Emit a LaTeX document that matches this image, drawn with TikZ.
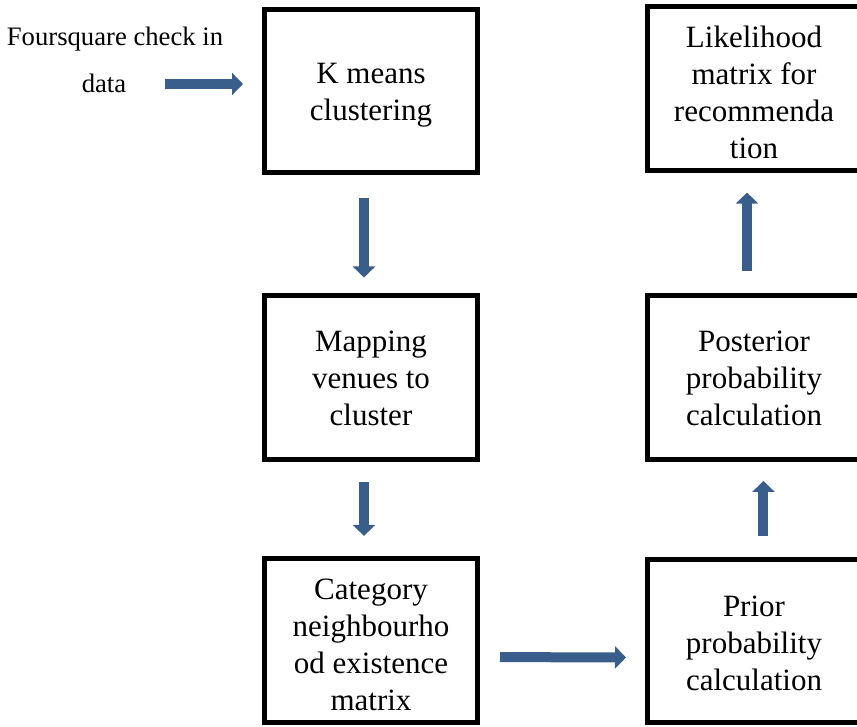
\documentclass[tikz,border=0pt]{standalone}
\usepackage{fontspec}
\setmainfont{Liberation Serif}
\usetikzlibrary{arrows.meta}
\definecolor{flowblue}{RGB}{58,94,140}
\newcommand{\lift}[1][24.5pt]{\rule{0pt}{#1}}

\begin{document}
\begin{tikzpicture}[x=0.75pt,y=-0.75pt,
        box/.style={draw,line width=3.75pt,minimum width=159.75pt,minimum height=122.25pt,inner sep=0,align=center,font=\fontsize{23.25}{27.75}\selectfont,execute at end node=\strut},
        flow/.style={draw=flowblue,line width=7.5pt,-{Triangle[width=16.5pt,length=8.25pt]}}]
        \useasboundingbox (0,0) rectangle (857,727);
        \clip (0,0) rectangle (857,727);
        \node[align=center,inner sep=0,font=\fontsize{20}{35.25}\selectfont] (src) at (115,60) {Foursquare check in\\data\hspace*{16.5pt}};
        \node[box] (kmeans) at (371,91) {\lift K means\\clustering};
        \node[box] (mapping) at (371,377.5) {\lift Mapping\\venues to\\cluster};
        \node[box] (category) at (371,640.5) {\lift[30.8pt]Category\\neighbourho\\od existence\\matrix};
        \node[box] (prior) at (754,641) {\lift[27.8pt]Prior\\probability\\calculation};
        \node[box] (posterior) at (754,377.5) {\lift Posterior\\probability\\calculation};
        \node[box] (likelihood) at (754,88.5) {\lift[30.8pt]Likelihood\\matrix for\\recommenda\\tion};
        \coordinate (in) at (165,84);
        \draw[flow,shorten >=14.25pt] (in) -- (in -| kmeans.west);
        \draw[flow,shorten <=17.25pt,shorten >=12pt] ([xshift=-5.25pt]kmeans.south) -- ([xshift=-5.25pt]mapping.north);
        \draw[flow,shorten <=15.4pt,shorten >=15.4pt] ([xshift=-5.25pt]mapping.south) -- ([xshift=-5.25pt]category.north);
        \draw[flow,shorten <=15pt,shorten >=14.25pt] ([yshift=-12.4pt]category.east) -- ([yshift=-12.4pt]prior.west);
        \draw[flow,shorten <=15.75pt,shorten >=14.6pt] ([xshift=7.1pt]prior.north) -- ([xshift=7.1pt]posterior.south);
        \draw[flow,shorten <=16.9pt,shorten >=15pt] ([xshift=-5.25pt]posterior.north) -- ([xshift=-5.25pt]likelihood.south);
      \end{tikzpicture}
\end{document}
